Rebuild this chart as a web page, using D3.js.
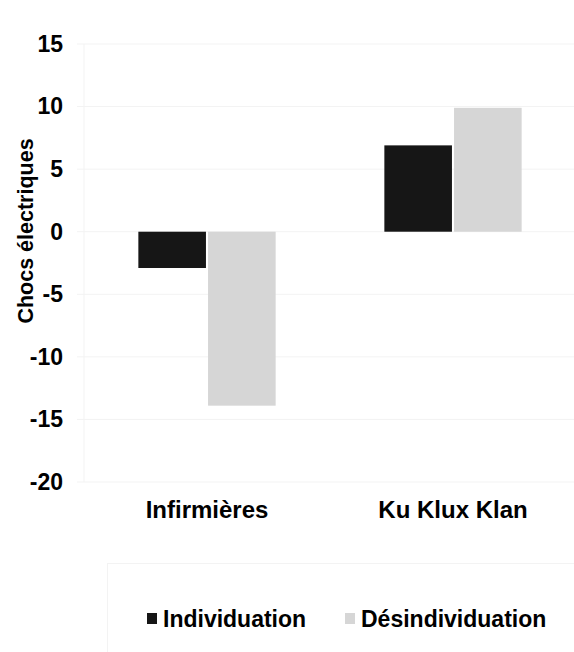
<!DOCTYPE html>
<html>
<head>
<meta charset="utf-8">
<script src="https://cdn.jsdelivr.net/npm/d3@7"></script>
<style>
  body { margin: 0; background: #fff; }
  text { font-family: "Liberation Sans", Arial, sans-serif; font-weight: bold; fill: #000; }
</style>
</head>
<body>
<svg width="574" height="652"></svg>
<script>
var categories = ['Infirmières', 'Ku Klux Klan'];
var series = ['Individuation', 'Désindividuation'];
var individuation = [-2.9, 6.9];
var desindividuation = [-13.9, 9.9];
var yTicks = [15, 10, 5, 0, -5, -10, -15, -20];
var colors = ['#161616', '#d6d6d6'];

var values = [individuation, desindividuation];
var data = categories.map(function(c, i){
  return { cat: c, vals: series.map(function(s, j){ return { serie: s, v: values[j][i], idx: j }; }) };
});

var svg = d3.select('svg');

var LEFT = 84, RIGHT = 576, TOP = 44, BOTTOM = 482;
var GRID = '#f3f3f3';

var x0 = d3.scaleBand().domain(categories).range([LEFT, RIGHT]);
var x1 = d3.scaleBand().domain(series).range([0, x0.bandwidth()])
  .paddingInner(0.03).paddingOuter(0.78);
var y = d3.scaleLinear().domain([-20, 15]).range([BOTTOM, TOP]);

// grid
svg.append('g').selectAll('line').data(yTicks).enter().append('line')
  .attr('x1', LEFT - 7).attr('x2', 574)
  .attr('y1', function(d){ return y(d); })
  .attr('y2', function(d){ return y(d); })
  .attr('stroke', GRID).attr('stroke-width', 1);

svg.append('line')
  .attr('x1', LEFT).attr('x2', LEFT)
  .attr('y1', TOP).attr('y2', BOTTOM)
  .attr('stroke', GRID);

// y axis labels (plain hyphen like the original)
var yAxis = d3.axisLeft(y).tickValues(yTicks).tickSize(0).tickPadding(0)
  .tickFormat(function(d){ return String(d); });
var ya = svg.append('g').attr('transform', 'translate(63,0)').call(yAxis);
ya.select('.domain').remove();
ya.selectAll('text')
  .attr('font-size', 23)
  .style('font-family', '"Liberation Sans", Arial, sans-serif')
  .style('font-weight', 'bold')
  .attr('fill', '#000');

svg.append('text')
  .attr('transform', 'translate(33,231) rotate(-90)')
  .attr('text-anchor', 'middle')
  .attr('font-size', 21.5)
  .text('Chocs électriques');

// bars
var groups = svg.append('g').selectAll('g')
  .data(data)
  .enter()
  .append('g')
  .attr('transform', function(d){ return 'translate(' + x0(d.cat) + ',0)'; });

groups.selectAll('rect').data(function(d){ return d.vals; }).enter().append('rect')
  .attr('x', function(d){ return x1(d.serie); })
  .attr('width', x1.bandwidth())
  .attr('y', function(d){ return y(Math.max(0, d.v)); })
  .attr('height', function(d){ return Math.abs(y(d.v) - y(0)); })
  .attr('fill', function(d){ return colors[d.idx]; });

// x labels
var xAxis = d3.axisBottom(x0).tickSize(0).tickPadding(0);
var xa = svg.append('g').attr('transform', 'translate(0,500)').call(xAxis);
xa.select('.domain').remove();
xa.selectAll('text')
  .attr('font-size', 24)
  .attr('dy', 0)
  .attr('y', 18)
  .style('font-family', '"Liberation Sans", Arial, sans-serif')
  .style('font-weight', 'bold')
  .attr('fill', '#000');

// legend
svg.append('rect')
  .attr('x', 107.5).attr('y', 563.5)
  .attr('width', 480).attr('height', 100)
  .attr('fill', 'none').attr('stroke', GRID);

var legX = [147, 345];
var leg = svg.append('g').selectAll('g').data(series).enter().append('g')
  .attr('transform', function(d, i){ return 'translate(' + legX[i] + ',613)'; });
leg.append('rect')
  .attr('width', 10).attr('height', 11)
  .attr('fill', function(d, i){ return colors[i]; });
leg.append('text')
  .attr('x', 16).attr('y', 13.5)
  .attr('font-size', 23)
  .text(function(d){ return d; });
</script>
</body>
</html>
